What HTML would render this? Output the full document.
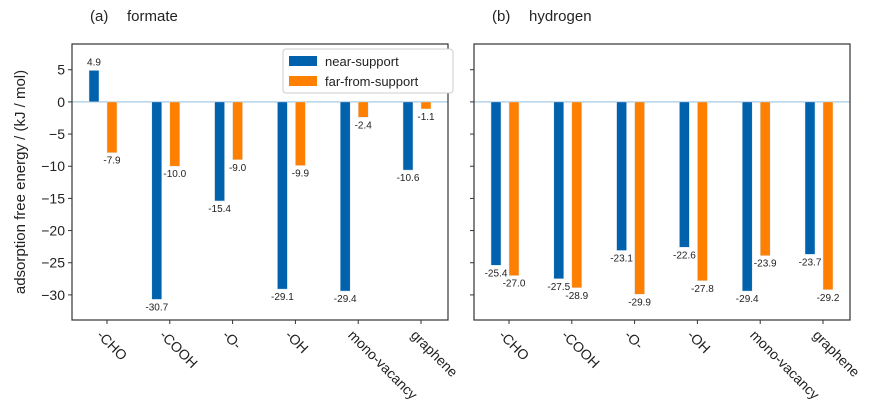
<!DOCTYPE html>
<html><head><meta charset="utf-8"><style>
body{margin:0;background:#fff;}
svg text{font-family:"Liberation Sans","DejaVu Sans",sans-serif;fill:#222;}
</style></head><body>
<svg id="chart" width="872" height="408" viewBox="0 0 872 408" xmlns="http://www.w3.org/2000/svg"></svg>
<script>
const categories = ["-CHO","-COOH","-O-","-OH","mono-vacancy","graphene"];
const formateNear = [4.9,-30.7,-15.4,-29.1,-29.4,-10.6];
const formateFar = [-7.9,-10.0,-9.0,-9.9,-2.4,-1.1];
const hydrogenNear = [-25.4,-27.5,-23.1,-22.6,-29.4,-23.7];
const hydrogenFar = [-27.0,-28.9,-29.9,-27.8,-23.9,-29.2];
const yTicks = [5,0,-5,-10,-15,-20,-25,-30];
const yTickLabels = ["5","0","\u22125","\u221210","\u221215","\u221220","\u221225","\u221230"];

const NS="http://www.w3.org/2000/svg";
const svgRoot=document.getElementById('chart');
function mk(tag,attrs,parent){const e=document.createElementNS(NS,tag);for(const k in attrs)e.setAttribute(k,attrs[k]);(parent||svgRoot).appendChild(e);return e;}
const plotTop=44,plotBottom=320,yMax=9.0,yMin=-33.9;
function yScale(v){return plotTop+(yMax-v)/(yMax-yMin)*(plotBottom-plotTop);}
const BLUE="#0061ad",ORANGE="#ff8000";

function panel(id,left,right,tag,name,near,far,showYLabels){
  const g=mk('g',{});
  
  
  function xPos(i){return left+35+i*62.8;}
  const z=mk('line',{x1:left,x2:right,y1:yScale(0),y2:yScale(0),stroke:"#b5d3ea","stroke-width":1.5},g);
  
  
  for(let i=0;i<categories.length;i++){
    const cx=xPos(i);
    [[near,BLUE,-18,'near'],[far,ORANGE,0,'far']].forEach(([arr,col,off,nm])=>{
      const v=arr[i];
      const y0=yScale(0),y1=yScale(v);
      const r=mk('rect',{x:cx+off,y:Math.min(y0,y1),width:10,height:Math.abs(y1-y0),fill:col,stroke:"#dfe9f3","stroke-width":0.5},g);
      
      
      const ty=v>=0?y1-5:y1+11;
      const t=mk('text',{x:cx+off+5,y:ty,'font-size':10,'text-anchor':'middle'},g);
      t.textContent=v.toFixed(1);
      
      
    });
    mk('line',{x1:cx,x2:cx,y1:plotBottom,y2:plotBottom+4,stroke:"#333"},g);
    const lx=cx-11,ly=plotBottom+16;
    const lt=mk('text',{x:lx,y:ly,'font-size':14,'text-anchor':'start',transform:`rotate(45 ${lx} ${ly})`},g);
    lt.textContent=categories[i];
    
    
  }
  yTicks.forEach((v,j)=>{
    mk('line',{x1:left-4,x2:left,y1:yScale(v),y2:yScale(v),stroke:"#333"},g);
    if(showYLabels){
      const t=mk('text',{x:left-7,y:yScale(v)+5,'font-size':14,'text-anchor':'end'},g);
      t.textContent=yTickLabels[j];
      
      
    }
  });
  const fr=mk('rect',{x:left,y:plotTop,width:right-left,height:plotBottom-plotTop,fill:"none",stroke:"#333","stroke-width":1.2},g);
  
  
  const tt=mk('text',{x:left+18,y:21,'font-size':15},g);
  tt.textContent=tag;
  
  
  const tn=mk('text',{x:left+55,y:21,'font-size':15},g);
  tn.textContent=name;
  
  
}
panel('formate',72,448,"(a)","formate",formateNear,formateFar,true);
panel('hydrogen',474,850,"(b)","hydrogen",hydrogenNear,hydrogenFar,false);

const yl=mk('text',{x:25,y:182,'font-size':15,'text-anchor':'middle',transform:'rotate(-90 25 182)'});
yl.textContent="adsorption free energy / (kJ / mol)";



const lg=mk('g',{});


mk('rect',{x:283,y:49,width:170,height:44,rx:3,fill:"#fff",stroke:"#ccc"},lg);
const legendItems=[["near-support",BLUE],["far-from-support",ORANGE]];
legendItems.forEach(([lbl,col],k)=>{
  const sw=mk('rect',{x:289,y:56+k*20,width:28,height:10,fill:col},lg);
  
  
  const t=mk('text',{x:325,y:66+k*20,'font-size':13},lg);
  t.textContent=lbl;
  
  
});
</script>
</body></html>
